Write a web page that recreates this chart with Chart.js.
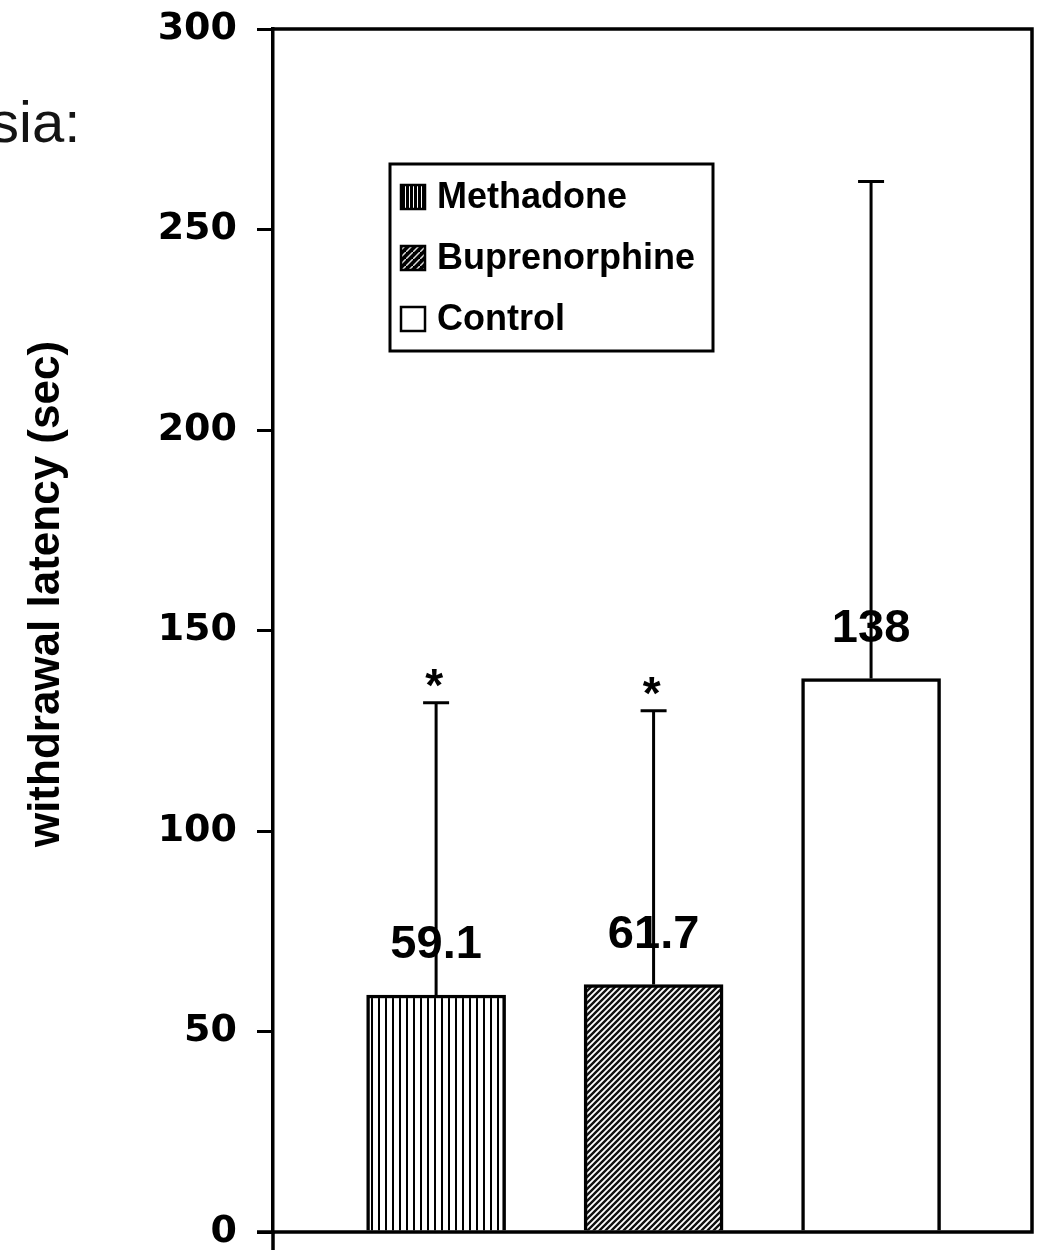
<!DOCTYPE html>
<html>
<head>
<meta charset="utf-8">
<script src="https://cdn.jsdelivr.net/npm/chart.js@4"></script>
<style>
  body { margin: 0; background: #fff; }
  #wrap { width: 1041px; height: 1253px; }
</style>
</head>
<body>
<div id="wrap"><canvas id="latencyChart" width="1041" height="1253"></canvas></div>
<script>
const groups = ["Methadone", "Buprenorphine", "Control"];
const means = [59.1, 61.7, 138];
const sds = [72.9, 68.3, 124];
const valueLabels = ["59.1", "61.7", "138"];
const stars = ["*", "*", ""];
const yTicks = [0, 50, 100, 150, 200, 250, 300];

const SANS = '"Liberation Sans", Arial, sans-serif';

function makePattern(size, paint) {
    const c = document.createElement("canvas");
    c.width = size;
    c.height = size;
    const g = c.getContext("2d");
    paint(g, size);
    return document.getElementById("latencyChart").getContext("2d").createPattern(c, "repeat");
}

// vertical stripes for methadone
const vStripes = makePattern(7, (g, s) => {
    g.fillStyle = "#fff";
    g.fillRect(0, 0, s, s);
    g.fillStyle = "#000";
    g.fillRect(0, 0, 2, s);
});

// dense diagonal hatch for buprenorphine
const diagHatch = makePattern(6, (g, s) => {
    g.fillStyle = "#fff";
    g.fillRect(0, 0, s, s);
    g.strokeStyle = "#111";
    g.lineWidth = 2.4;
    g.beginPath();
    g.moveTo(-1, s + 1); g.lineTo(s + 1, -1);
    g.moveTo(-1, 1); g.lineTo(1, -1);
    g.moveTo(s - 1, s + 1); g.lineTo(s + 1, s - 1);
    g.stroke();
});

// darker versions for the legend swatches
const vStripesKey = makePattern(4, (g, s) => {
    g.fillStyle = "#000";
    g.fillRect(0, 0, s, s);
    g.fillStyle = "#fff";
    g.fillRect(1, 0, 1, s);
});
const diagHatchKey = makePattern(7, (g, s) => {
    g.fillStyle = "#000";
    g.fillRect(0, 0, s, s);
    g.strokeStyle = "#ddd";
    g.lineWidth = 1.5;
    g.beginPath();
    g.moveTo(-1, s + 1); g.lineTo(s + 1, -1);
    g.stroke();
});

const fills = [vStripes, diagHatch, "#fff"];
const keyFills = [vStripesKey, diagHatchKey, "#fff"];

const overlay = {
    id: "overlay",
    afterDatasetsDraw(chart) {
        const ctx = chart.ctx;
        const xs = chart.scales.x;
        const ys = chart.scales.y;
        const a = chart.chartArea;
        ctx.save();

        // frame: top + right, and axis overhang below zero
        ctx.strokeStyle = "#000";
        ctx.lineWidth = 3.5;
        ctx.beginPath();
        ctx.moveTo(a.left, a.top);
        ctx.lineTo(a.right, a.top);
        ctx.lineTo(a.right, a.bottom);
        ctx.lineTo(a.left - 16, a.bottom);
        ctx.moveTo(a.left, a.bottom);
        ctx.lineTo(a.left, a.bottom + 18);
        ctx.stroke();

        // value labels (error lines go over them)
        ctx.fillStyle = "#000";
        ctx.textAlign = "center";
        ctx.textBaseline = "alphabetic";
        ctx.font = "bold 47px " + SANS;
        groups.forEach((g, i) => {
            const cx = xs.getPixelForValue(i + 1);
            ctx.fillText(valueLabels[i], cx, ys.getPixelForValue(means[i]) - 37);
        });

        // error bars (upper only)
        ctx.lineWidth = 3;
        groups.forEach((g, i) => {
            const cx = xs.getPixelForValue(i + 1);
            const y0 = ys.getPixelForValue(means[i]);
            const y1 = ys.getPixelForValue(means[i] + sds[i]);
            ctx.beginPath();
            ctx.moveTo(cx, y0);
            ctx.lineTo(cx, y1);
            ctx.moveTo(cx - 13, y1);
            ctx.lineTo(cx + 13, y1);
            ctx.stroke();
            if (stars[i]) {
                ctx.font = "bold 46px " + SANS;
                ctx.fillText(stars[i], cx - 2, y1 - 2);
            }
        });

        // legend box
        ctx.lineWidth = 3;
        ctx.strokeRect(390, 164, 323, 187);
        ctx.font = "bold 36px " + SANS;
        ctx.textAlign = "left";
        ctx.textBaseline = "middle";
        groups.forEach((g, i) => {
            const cy = 197 + i * 61;
            ctx.fillStyle = keyFills[i];
            ctx.fillRect(401, cy - 12, 24, 24);
            ctx.lineWidth = 2.5;
            ctx.strokeRect(401, cy - 12, 24, 24);
            ctx.fillStyle = "#000";
            ctx.fillText(g, 437, cy + 1);
        });

        // y axis title
        ctx.save();
        ctx.translate(47, 594);
        ctx.rotate(-Math.PI / 2);
        ctx.textAlign = "center";
        ctx.textBaseline = "middle";
        ctx.font = "bold 44px " + SANS;
        ctx.fillText("withdrawal latency (sec)", 0, 0);
        ctx.restore();

        // cropped slide heading
        ctx.fillStyle = "#141414";
        ctx.textAlign = "left";
        ctx.textBaseline = "alphabetic";
        ctx.font = "58px " + SANS;
        ctx.fillText("sia:", -10, 142);

        ctx.restore();
    }
};

new Chart(document.getElementById("latencyChart"), {
    type: "bar",
    data: {
        datasets: groups.map((g, i) => ({
            label: g,
            data: [{ x: i + 1, y: means[i] }],
            backgroundColor: fills[i],
            borderColor: "#000",
            borderWidth: 3.5,
            barThickness: 139,
            grouped: false
        }))
    },
    options: {
        responsive: false,
        devicePixelRatio: 1,
        animation: false,
        layout: { padding: { left: 0, top: 29, right: 9, bottom: 21 } },
        plugins: {
            legend: { display: false },
            tooltip: { enabled: false }
        },
        scales: {
            x: {
                type: "linear",
                display: false,
                offset: false,
                grid: { offset: false },
                min: 0.25,
                max: 3.74
            },
            y: {
                min: 0,
                max: 300,
                afterFit: s => { s.width = 273; s.paddingTop = 0; s.paddingBottom = 0; },
                afterBuildTicks: s => { s.ticks = yTicks.map(v => ({ value: v })); },
                border: { display: true, color: "#000", width: 3.5 },
                grid: {
                    display: true,
                    drawOnChartArea: false,
                    drawTicks: true,
                    tickLength: 16,
                    color: "#000",
                    lineWidth: 3
                },
                ticks: {
                    color: "#000",
                    padding: 20,
                    font: { family: '"DejaVu Sans", sans-serif', weight: "bold", size: 38, lineHeight: 1 }
                }
            }
        }
    },
    plugins: [overlay]
});
</script>
</body>
</html>
